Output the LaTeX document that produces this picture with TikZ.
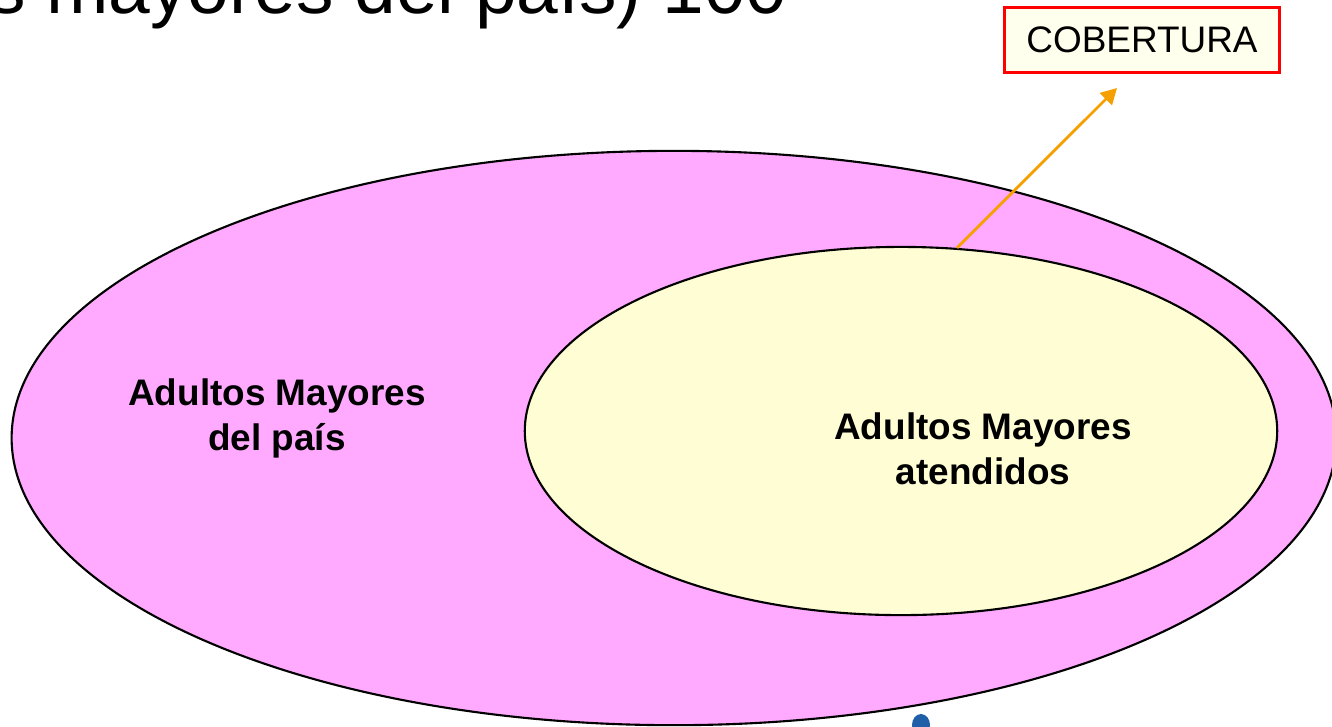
\documentclass[tikz,border=0pt]{standalone}
\usepackage{fontspec}
\setmainfont{Liberation Sans}
\usepackage{xcolor}
\usetikzlibrary{positioning,shapes.geometric,arrows.meta}

\definecolor{pinkset}{HTML}{FFAAFF}
\definecolor{yellowset}{HTML}{FFFDD3}
\definecolor{boxfill}{HTML}{FFFFEE}
\definecolor{arroworange}{HTML}{F5A000}
\definecolor{dotblue}{HTML}{1F5FA8}

\begin{document}
\begin{tikzpicture}[x=0.01cm,y=-0.01cm,
  setshape/.style={ellipse,draw=black,line width=0.6pt,inner sep=0pt},
  setlabel/.style={font=\fontsize{10.5}{12.8}\selectfont\bfseries,align=center},
  tagbox/.style={draw=red,line width=0.7pt,fill=boxfill,minimum width=2.75cm,
    minimum height=0.65cm,font=\fontsize{10.5}{12.6}\selectfont}]
  \useasboundingbox (0,0) rectangle (1332,726);
  \clip (0,0) rectangle (1332,726);
  \node[anchor=base east,font=\fontsize{21.3}{24}\selectfont] (title) at (800,13) {s mayores del país) 100};
  \node[setshape,fill=pinkset,minimum width=13.24cm,minimum height=5.74cm] (pais) at (674,438) {};
  \node[setshape,fill=yellowset,minimum width=7.52cm,minimum height=3.68cm] (aten) at (901,431) {};
  \node[setlabel] (paislbl) at (277,418) {Adultos Mayores\\del país};
  \node[setlabel] (atenlbl) at (983,449) {Adultos Mayores\\atendidos};
  \node[tagbox] (cob) at (1142,40) {COBERTURA};
  \coordinate (tip) at (1117,88);
  \draw[arroworange,line width=0.8pt,-{Triangle[length=4.5pt,width=4.8pt]}] (aten.73) -- (tip);
  \fill[dotblue] (921,725) ellipse (9 and 11);
\end{tikzpicture}
\end{document}
